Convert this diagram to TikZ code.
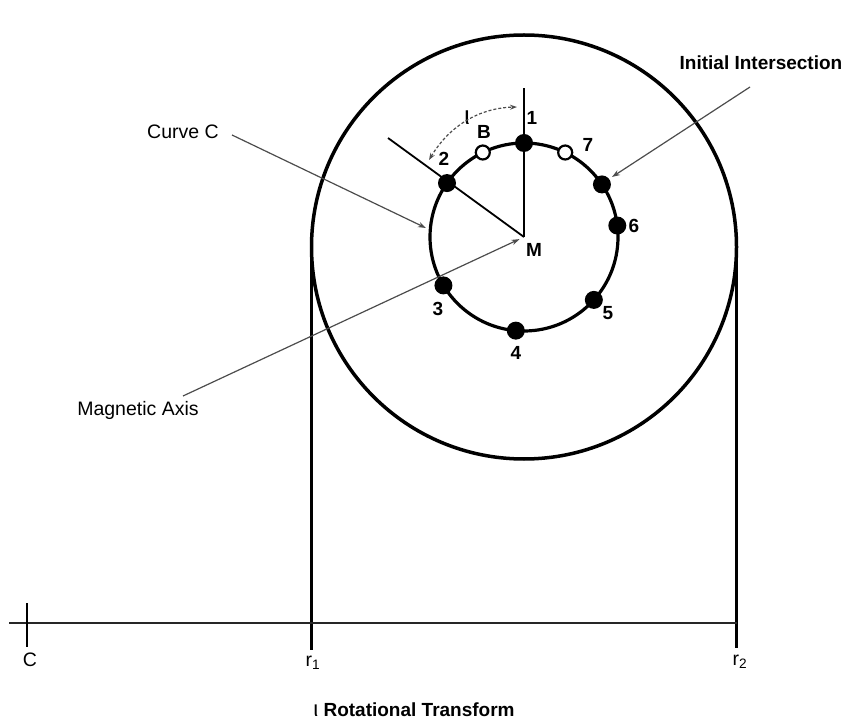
\documentclass[tikz,border=0pt]{standalone}
\usepackage{fontspec}
\setmainfont{Liberation Sans}
\usetikzlibrary{arrows.meta,calc}
\begin{document}
\begin{tikzpicture}[x=1pt,y=1pt,
  mid line/.style={line width=2.6pt,black},
  pointer/.style={line width=1.2pt,black!70,-{Stealth[length=8pt,width=5.5pt]}},
  fdot/.style={circle,fill=black,inner sep=0pt,minimum size=18pt},
  odot/.style={circle,draw=black,line width=2.2pt,fill=white,inner sep=0pt,minimum size=14pt},
  lbl/.style={font=\fontsize{19}{21}\selectfont\bfseries,inner sep=1pt},
  txt/.style={font=\fontsize{19.5}{22}\selectfont,inner sep=1pt},
  btxt/.style={font=\fontsize{19}{22}\selectfont\bfseries,inner sep=1pt}]
\useasboundingbox (0,0) rectangle (843,721);
% big circle and tangent lines
\coordinate (O) at (524,474);
\draw[line width=3.5pt] (O) ellipse [x radius=212.5, y radius=212];
\coordinate (T1) at (311.5,474);
\coordinate (T2) at (736.5,474);
\coordinate (B1) at (311.5,71);
\coordinate (B2) at (736.5,73);
\draw[mid line] (T1) -- (B1);
\draw[mid line] (T2) -- (B2);
% axis
\coordinate (A0) at (9,98);
\coordinate (A1) at (737,98);
\draw[line width=2.6pt,black!85] (A0) -- (A1);
\coordinate (C0) at (27,118);
\coordinate (C1) at (27,74);
\draw[line width=1.8pt] (C0) -- (C1);
\node[txt] (lc) at (30,61) {C};
\node[txt] (lr1) at (313,58) {r\textsubscript{1}};
\node[txt] (lr2) at (740,59) {r\textsubscript{2}};
\node[btxt,anchor=base] (title) at (414,5) {{\fontsize{22}{22}\selectfont\mdseries ι} Rotational Transform};
% small circle
\coordinate (M) at (524,484);
\draw[line width=3.2pt] (M) circle [radius=94];
\coordinate (Vtop) at (524,633);
\coordinate (Dend) at (388,583);
\draw[line width=1.8pt] (M) -- (Vtop);
\draw[line width=1.8pt] (M) -- (Dend);
% dots
\node[fdot] (p1) at ($(M)+(90:94)$) {};
\node[odot] (pB) at ($(M)+(116:94)$) {};
\node[fdot] (p2) at ($(M)+(145:94)$) {};
\node[odot] (p7) at ($(M)+(64:94)$) {};
\node[fdot] (p0) at ($(M)+(34:94)$) {};
\node[fdot] (p6) at ($(M)+(7:94)$) {};
\node[fdot] (p5) at ($(M)+(-42:94)$) {};
\node[fdot] (p4) at ($(M)+(-95:94)$) {};
\node[fdot] (p3) at ($(M)+(-149:94)$) {};
% labels
\node[lbl] (l1) at (532,603) {1};
\node[lbl] (lB) at (484,589) {B};
\node[lbl] (l7) at (588,576) {7};
\node[lbl] (l2) at (444,562) {2};
\node[lbl] (l6) at (634,495) {6};
\node[lbl] (l5) at (608,408) {5};
\node[lbl] (l4) at (516,368) {4};
\node[lbl] (l3) at (438,412) {3};
\node[lbl] (lM) at (534,471) {M};
\node[font=\fontsize{26}{26}\selectfont,inner sep=1pt] (liota) at (467,603) {ι};
% iota arc
\coordinate (ia) at (429,561);
\coordinate (ib) at (517,614);
\draw[line width=1.2pt,black!70,densely dashed,{Stealth[length=7pt,width=5pt]}-{Stealth[length=7pt,width=5pt]}]
  (ia) .. controls (450,596) and (480,613) .. (ib);
% pointers
\node[txt] (lcurve) at (183,589) {Curve C};
\node[txt] (lmag) at (138,311) {Magnetic Axis};
\node[btxt] (linit) at (761,658) {Initial Intersection};
\coordinate (cs) at (232,586);
\coordinate (ct) at (426,493);
\draw[pointer] (cs) -- (ct);
\coordinate (ms) at (183,325);
\draw[pointer,shorten >=5pt] (ms) -- (M);
\coordinate (is) at (750,634);
\coordinate (it) at (612,544);
\draw[pointer] (is) -- (it);
\end{tikzpicture}
\end{document}
